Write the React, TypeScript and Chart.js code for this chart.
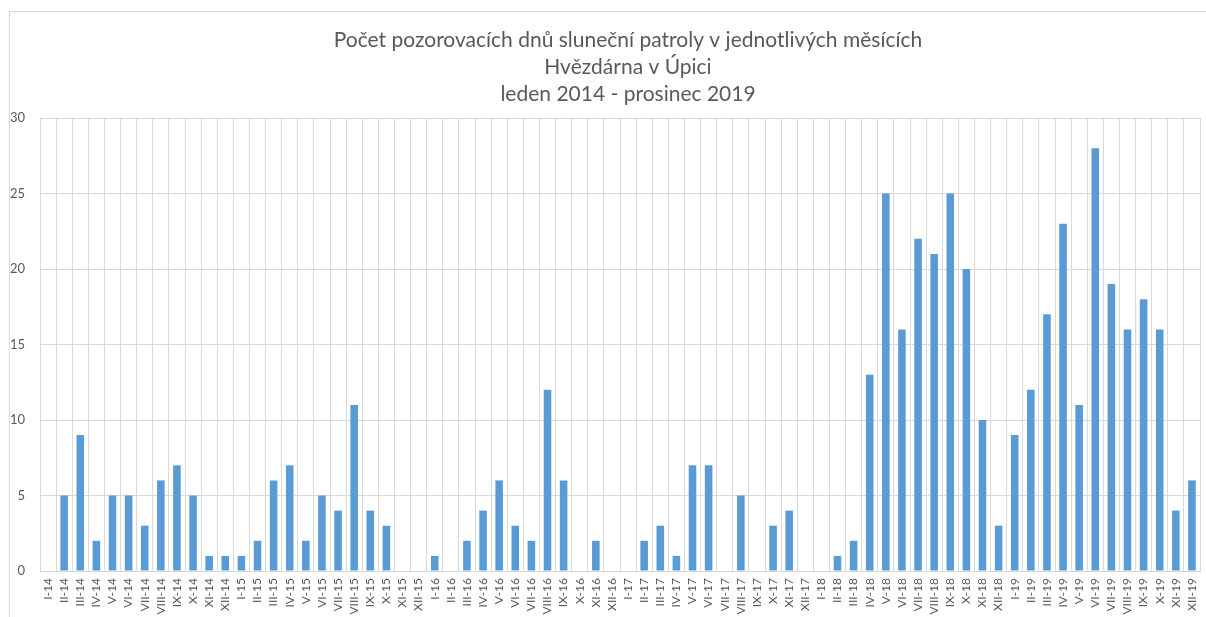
import React, { useEffect, useRef } from "react";
import { Chart, registerables } from "chart.js";

Chart.register(...registerables);

const titleLines = [
  "Počet pozorovacích dnů sluneční patroly v jednotlivých měsících",
  "Hvězdárna v Úpici",
  "leden 2014 - prosinec 2019",
];

const months = ["I", "II", "III", "IV", "V", "VI", "VII", "VIII", "IX", "X", "XI", "XII"];
const years = ["14", "15", "16", "17", "18", "19"];

const values2014 = [0, 5, 9, 2, 5, 5, 3, 6, 7, 5, 1, 1];
const values2015 = [1, 2, 6, 7, 2, 5, 4, 11, 4, 3, 0, 0];
const values2016 = [1, 0, 2, 4, 6, 3, 2, 12, 6, 0, 2, 0];
const values2017 = [0, 2, 3, 1, 7, 7, 0, 5, 0, 3, 4, 0];
const values2018 = [0, 1, 2, 13, 25, 16, 22, 21, 25, 20, 10, 3];
const values2019 = [9, 12, 17, 23, 11, 28, 19, 16, 18, 16, 4, 6];

const yTicks = [0, 5, 10, 15, 20, 25, 30];

const labels = years.flatMap((y) => months.map((m) => `${m}-${y}`));
const values = [
  ...values2014,
  ...values2015,
  ...values2016,
  ...values2017,
  ...values2018,
  ...values2019,
];

const frameAndTitle = {
  id: "frameAndTitle",
  beforeDraw(chart: any) {
    const { ctx, width, height } = chart;
    ctx.save();
    ctx.fillStyle = "#ffffff";
    ctx.fillRect(0, 0, width, height);
    ctx.strokeStyle = "#d9d9d9";
    ctx.lineWidth = 1;
    ctx.strokeRect(9.5, 11.5, width + 50, height + 50);
    ctx.fillStyle = "#595959";
    ctx.font = "normal 21px Lato";
    ctx.textAlign = "center";
    ctx.textBaseline = "middle";
    titleLines.forEach((line, i) => {
      ctx.fillText(line, 628, 40 + i * 27);
    });
    ctx.restore();
  },
};

export default function App() {
  const canvasRef = useRef<HTMLCanvasElement | null>(null);

  useEffect(() => {
    const canvas = canvasRef.current;
    if (!canvas) return;
    const chart = new Chart(canvas, {
      type: "bar",
      data: {
        labels,
        datasets: [
          {
            data: values,
            backgroundColor: "#5b9bd5",
            borderWidth: 0,
            categoryPercentage: 1,
            barPercentage: 0.47,
          },
        ],
      },
      options: {
        responsive: false,
        animation: false,
        devicePixelRatio: 1,
        layout: { padding: { left: 0, right: 6, top: 118, bottom: 0 } },
        plugins: {
          legend: { display: false },
          tooltip: { enabled: false },
          title: { display: false },
        },
        scales: {
          x: {
            grid: { color: "#d9d9d9", offset: true, drawTicks: false },
            border: { display: true, color: "#d9d9d9" },
            ticks: {
              autoSkip: false,
              minRotation: 90,
              maxRotation: 90,
              padding: 7,
              color: "#595959",
              font: { family: "Lato", size: 12 },
            },
            afterFit(scale: any) {
              scale.height = 60;
              scale.paddingLeft = 0;
              scale.paddingRight = 0;
            },
          },
          y: {
            min: 0,
            max: 30,
            afterBuildTicks(scale: any) {
              scale.ticks = yTicks.map((v) => ({ value: v }));
            },
            grid: { color: "#d9d9d9", drawTicks: false },
            border: { display: false },
            ticks: {
              padding: 15,
              color: "#595959",
              font: { family: "Lato", size: 13 },
            },
            afterFit(scale: any) {
              scale.width = 40;
            },
          },
        },
      },
      plugins: [frameAndTitle],
    });
    return () => chart.destroy();
  }, []);

  return (
    <div
      style={{
        position: "fixed",
        top: 0,
        left: 0,
        width: 1206,
        height: 617,
        overflow: "hidden",
        background: "#fff",
      }}
    >
      <canvas ref={canvasRef} width={1206} height={631} style={{ width: 1206, height: 631, display: "block" }} />
    </div>
  );
}
